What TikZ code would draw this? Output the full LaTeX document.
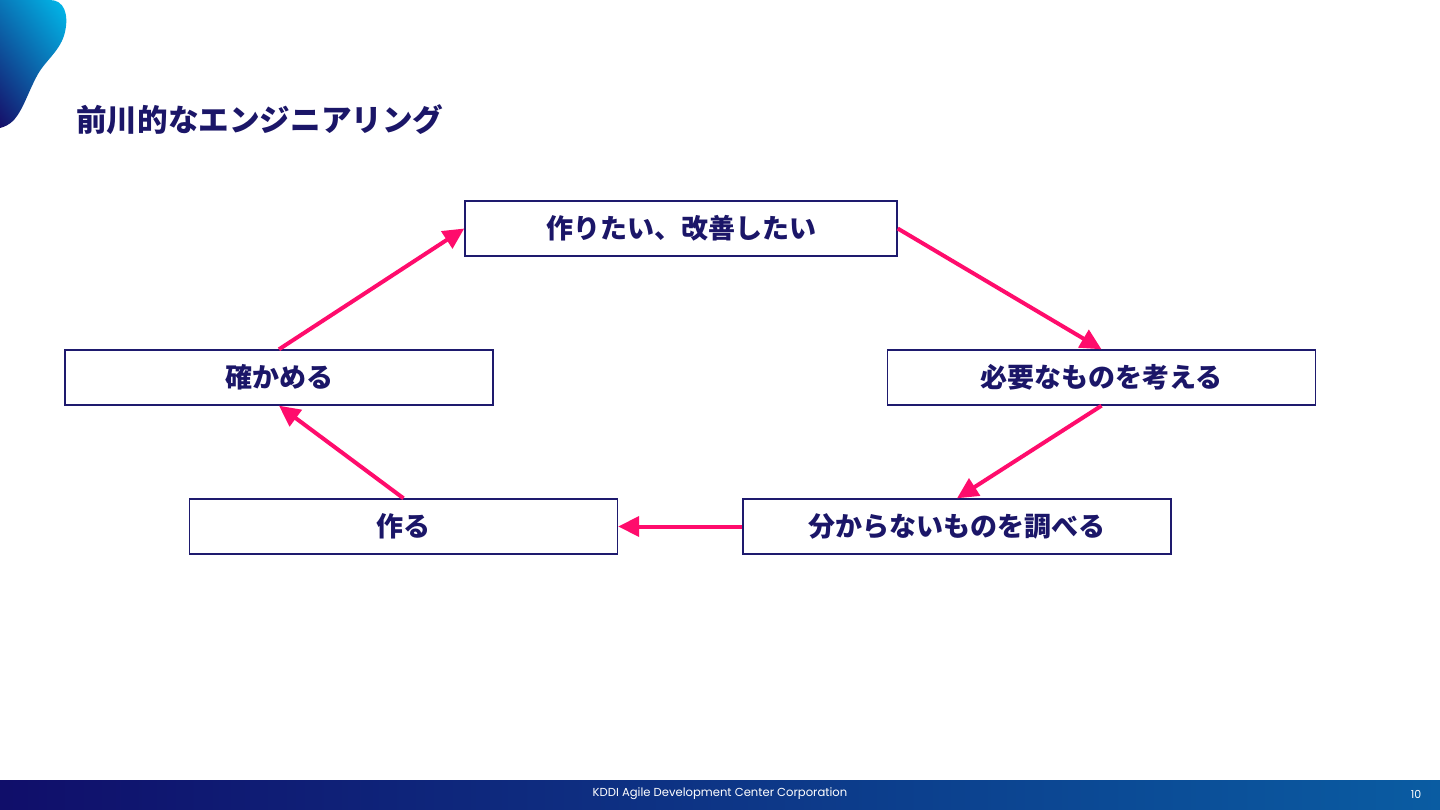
\documentclass[tikz,border=0pt]{standalone}
\usepackage{fontspec}
\setmainfont{Poppins}
\newfontfamily\cjk{Noto Sans CJK JP}
\usepackage{tikz}
\usetikzlibrary{arrows.meta,shadings}
\definecolor{navytext}{RGB}{27, 22, 104}
\definecolor{boxline}{RGB}{30, 26, 110}
\definecolor{flowcolor}{RGB}{255, 12, 108}
\definecolor{blobcyan}{RGB}{0, 190, 238}
\definecolor{blobnavy}{RGB}{22, 14, 104}
\definecolor{footleft}{RGB}{16, 14, 106}
\definecolor{footright}{RGB}{10, 92, 162}
\tikzset{
    stepbox/.style={rectangle, draw=boxline, line width=1.4pt, fill=white,
        minimum width=428pt, minimum height=55pt, inner sep=0pt,
        font=\cjk\bfseries\fontsize{27}{30}\selectfont, text=navytext},
    flow arrow/.style={-{Triangle[length=21pt,width=20pt]}, line width=4pt, flowcolor, shorten >=0pt}
}

\begin{document}
\begin{tikzpicture}[x=1pt, y=-1pt]
    \useasboundingbox (0,0) rectangle (1440,810);
    \fill[white] (0,0) rectangle (1440,810);

    % Corner shape
    \shade[lower left=blobnavy, upper right=blobcyan, upper left=blobcyan!60!blobnavy, lower right=blobcyan!45!blobnavy]
        (0,0) -- (50,0) .. controls (64,0) and (69,14) .. (65,32)
        .. controls (61,50) and (46,60) .. (38,74)
        .. controls (28,92) and (24,108) .. (14,120)
        .. controls (9,125) and (4,127) .. (0,128) -- cycle;

    % Title
    \node[anchor=west, font=\cjk\bfseries\fontsize{30.6}{34}\selectfont, text=navytext, inner sep=0pt] (title) at (76,120) {前川的なエンジニアリング};

    % Steps
    \node[stepbox, minimum width=432pt] (want) at (681,228.5) {作りたい、改善したい};
    \node[stepbox] (need) at (1101.5,377.5) {必要なものを考える};
    \node[stepbox] (research) at (957,526.5) {分からないものを調べる};
    \node[stepbox] (make) at (403.5,526.5) {作る};
    \node[stepbox] (check) at (279,377.5) {確かめる};

    % Cycle
    \draw[flow arrow] (want.east) -- (need.north);
    \draw[flow arrow] (need.south) -- (research.north);
    \draw[flow arrow] (research.west) -- (make.east);
    \draw[flow arrow] (make.north) -- (check.south);
    \draw[flow arrow] (check.north) -- (want.west);

    % Footer
    \shade[left color=footleft, right color=footright] (0,780) rectangle (1440,810);
    \node[text=white, font=\fontsize{11.6}{13}\selectfont, inner sep=0pt] (company) at (720,794) {KDDI Agile Development Center Corporation};
    \node[text=white, font=\fontsize{11}{13}\selectfont, inner sep=0pt] (page) at (1416,794) {10};
\end{tikzpicture}
\end{document}
